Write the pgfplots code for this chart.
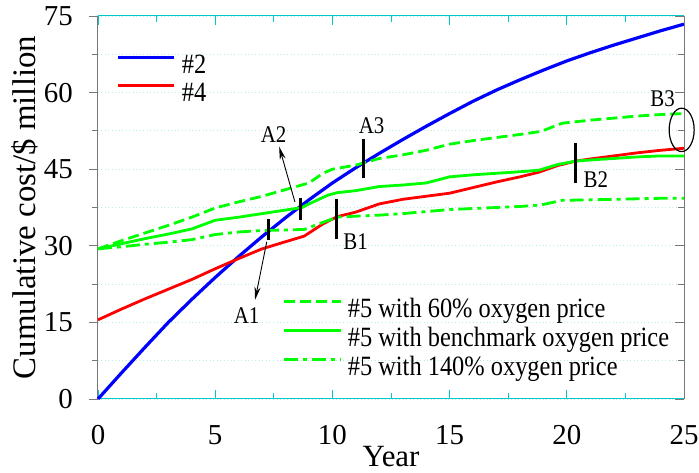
\documentclass[border=0pt]{standalone}
\usepackage{fontspec}
\setmainfont{Liberation Serif}
\newfontfamily\narrowserif{Liberation Serif}[FakeStretch=0.875]
\usepackage{pgfplots}
\pgfplotsset{compat=1.18}
\usetikzlibrary{arrows.meta}
\definecolor{axcyan}{RGB}{0,200,200}
\definecolor{gridc}{RGB}{185,238,232}
\definecolor{axgray}{RGB}{120,120,120}
\definecolor{mygreen}{RGB}{0,255,0}
\begin{document}
\begin{tikzpicture}
\begin{axis}[name=main, scale only axis, width=586bp, height=383bp,
 xmin=0, xmax=25, ymin=0, ymax=75, clip=false,
 separate axis lines,
 x axis line style={draw=axcyan, line width=1bp},
 y axis line style={draw=axgray, line width=1bp},
 xtick={0,5,...,25}, minor x tick num=1,
 ytick={0,15,...,75}, minor y tick num=1,
 xtick align=inside, ytick align=outside, ytick pos=left,
 xtick style={draw=axcyan, line width=0.8bp},
 ytick style={draw=axgray, line width=0.8bp},
 major tick length=9bp, minor tick length=6bp,
 ymajorgrids, yminorgrids,
 major grid style={draw=gridc, dash pattern=on 1bp off 2.5bp, line width=0.8bp},
 minor grid style={draw=gridc, dash pattern=on 1bp off 2.5bp, line width=0.8bp},
 /pgf/number format/assume math mode=true,
 tick label style={font=\fontsize{29}{34}\selectfont},
 xticklabel style={anchor=base, yshift=-46bp},
 yticklabel style={anchor=east, inner sep=0pt, xshift=-16bp},
 xlabel={Year}, ylabel={Cumulative cost/\$ million},
 xlabel style={at={(rel axis cs:0.5,-0.1775)}, anchor=base, font=\fontsize{31}{36}\selectfont},
 ylabel style={at={(rel axis cs:-0.1075,0.5)}, anchor=base, font=\fontsize{33}{38}\selectfont},
 legend style={at={(rel axis cs:0.032,0.898)}, anchor=north west, draw=none, fill=none,
   inner sep=0pt, outer sep=0pt, row sep=5bp, font=\narrowserif\fontsize{28}{33}\selectfont,
   nodes={inner sep=0pt, text height=18bp, text depth=5bp}},
 legend cell align=left,
 legend image code/.code={\draw[#1] (0bp,9bp) -- (56bp,9bp); \path (62bp,9bp);},
]
\addplot[blue, line width=3.2bp, line join=round] table {
0 0
1 5.1
2 10.1
3 15.0
4 19.5
5 23.8
6 27.9
7 31.8
8 35.5
9 39.0
10 42.3
11 45.3
12 48.1
13 50.8
14 53.4
15 55.9
16 58.3
17 60.5
18 62.5
19 64.4
20 66.2
21 67.8
22 69.3
23 70.7
24 72.1
25 73.4
};
\addlegendentry{\#2}
\addplot[red, line width=2.8bp, line join=round] table {
0 15.5
1 17.6
2 19.6
3 21.5
4 23.4
5 25.5
6 27.5
7 29.4
8 30.8
8.8 31.9
9.6 34.3
10.2 35.7
11 36.6
12 38.2
13 39.1
14 39.7
15 40.3
16 41.4
17 42.5
18 43.5
18.8 44.4
19.6 45.7
20.4 46.6
21 47.0
22 47.6
23 48.2
24 48.7
25 49.1
};
\addlegendentry{\#4}
\end{axis}
\begin{axis}[scale only axis, width=586bp, height=383bp,
 at={(main.south west)}, anchor=south west,
 xmin=0, xmax=25, ymin=0, ymax=75, clip=false,
 axis x line=none, axis y line*=right,
 y axis line style={draw=axgray, line width=1bp},
 ytick={0,15,...,75}, minor y tick num=1, yticklabels={},
 ytick align=inside, ytick style={draw=axgray, line width=0.8bp},
 major tick length=9bp, minor tick length=6bp,
 legend style={at={(rel axis cs:0.3157,0.261)}, anchor=north west, draw=none, fill=none,
   inner sep=0pt, outer sep=0pt, row sep=6bp, font=\narrowserif\fontsize{28}{33}\selectfont,
   nodes={inner sep=0pt, text height=18bp, text depth=5bp}},
 legend cell align=left,
 legend image code/.code={\draw[#1] (0bp,9bp) -- (57bp,9bp); \path (62bp,9bp);},
]
\addplot[mygreen, line width=2.8bp, dash pattern=on 11bp off 5bp] table {
0 29.4
1 31.0
2 32.5
3 34.0
4 35.6
5 37.4
6 38.6
7 39.7
8 41.0
9 42.3
9.6 44.2
10 45.0
11 45.8
12 47.1
13 47.8
14 48.7
15 49.9
16 50.6
17 51.2
18 51.8
18.9 52.4
19.8 54.0
21 54.6
22 55.0
23 55.4
24 55.7
25 55.9
};
\addlegendentry{\#5 with 60\% oxygen price}
\addplot[mygreen, line width=2.8bp, line join=round] table {
0 29.4
1 30.4
2 31.4
3 32.3
4 33.3
5 35.0
6 35.6
7 36.3
8 37.0
8.7 37.5
9 38.2
9.8 39.9
10.2 40.4
11 40.8
12 41.6
13 41.9
14 42.3
15 43.5
16 43.9
17 44.2
18 44.5
18.8 44.8
19.6 45.9
20.4 46.6
21 46.8
22 47.1
23 47.4
24 47.6
25 47.6
};
\addlegendentry{\#5 with benchmark oxygen price}
\addplot[mygreen, line width=2.8bp, dash pattern=on 14bp off 5bp on 4bp off 5bp] table {
0 29.4
1 29.8
2 30.3
3 30.7
4 31.2
5 32.2
6 32.7
7 33.0
8 33.1
8.8 33.2
9.6 34.6
10.2 35.6
11 35.8
12 36.0
13 36.3
14 36.7
15 37.1
16 37.3
17 37.5
18 37.7
18.9 38.0
19.8 38.9
21 39.0
22 39.1
23 39.2
24 39.3
25 39.3
};
\addlegendentry{\#5 with 140\% oxygen price}
\draw[line width=3bp] (axis cs:7.27,31.1) -- (axis cs:7.27,35.2);
\draw[line width=3bp] (axis cs:8.62,35.0) -- (axis cs:8.62,39.3);
\draw[line width=3bp] (axis cs:10.18,31.3) -- (axis cs:10.18,39.1);
\draw[line width=3bp] (axis cs:11.32,43.2) -- (axis cs:11.32,51.0);
\draw[line width=3bp] (axis cs:20.38,42.2) -- (axis cs:20.38,50.1);
\draw[line width=0.9bp, -{Stealth[length=13bp,width=6bp]}] (axis cs:8.40,38.6) -- (axis cs:7.73,49.4);
\draw[line width=0.9bp, -{Stealth[length=13bp,width=6bp]}] (axis cs:7.2,30.8) -- (axis cs:6.70,19.4);
\node[font=\narrowserif\fontsize{24}{28}\selectfont] at (axis cs:6.34,16.35) {A1};
\node[font=\narrowserif\fontsize{24}{28}\selectfont] at (axis cs:7.49,51.7) {A2};
\node[font=\narrowserif\fontsize{24}{28}\selectfont] at (axis cs:11.67,53.5) {A3};
\node[font=\narrowserif\fontsize{24}{28}\selectfont] at (axis cs:10.99,30.8) {B1};
\node[font=\narrowserif\fontsize{24}{28}\selectfont] at (axis cs:21.24,42.9) {B2};
\node[font=\narrowserif\fontsize{24}{28}\selectfont] at (axis cs:24.09,58.9) {B3};
\draw[line width=1.2bp] (axis cs:24.9,52.7) ellipse [x radius=12.5bp, y radius=21.7bp];
\end{axis}
\pgfresetboundingbox
\path[use as bounding box] ([xshift=-98bp,yshift=-74bp]main.south west) rectangle ([xshift=15bp,yshift=16bp]main.north east);
\end{tikzpicture}
\end{document}
